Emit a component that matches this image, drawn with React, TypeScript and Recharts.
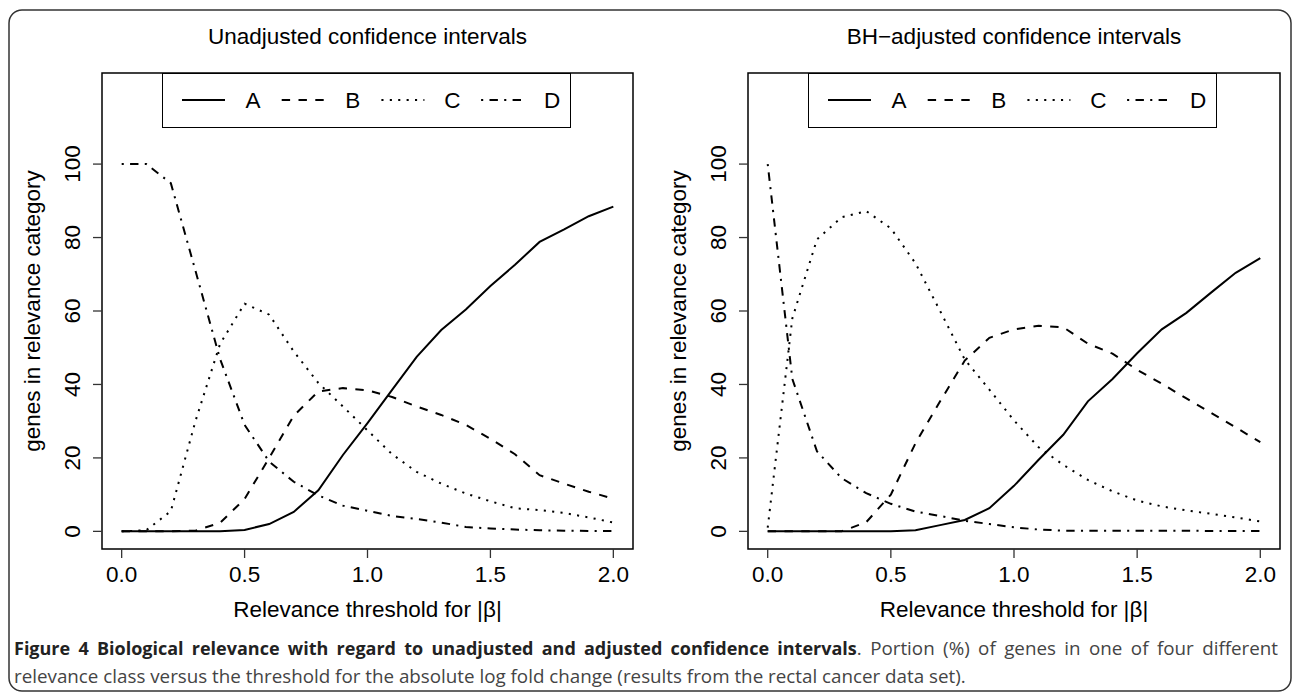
import React from 'react';
import { LineChart, Line, XAxis, YAxis, ReferenceArea, Legend } from 'recharts';

// relevance threshold for |beta|
const THRESHOLDS = [0, 0.1, 0.2, 0.3, 0.4, 0.5, 0.6, 0.7, 0.8, 0.9, 1.0, 1.1, 1.2, 1.3, 1.4, 1.5, 1.6, 1.7, 1.8, 1.9, 2.0];

// unadjusted confidence intervals (% of genes)
const UNADJ_A = [0, 0, 0, 0, 0, 0.4, 2, 5.3, 11.2, 20.8, 29.5, 38.5, 47.5, 54.8, 60.4, 66.8, 72.6, 78.8, 82.2, 85.8, 88.4];
const UNADJ_B = [0, 0, 0, 0.2, 2.3, 8.8, 20, 31.5, 38.1, 39, 38.4, 36.6, 34, 31.7, 29, 25.2, 21, 15.3, 13, 10.8, 8.9];
const UNADJ_C = [0, 0.3, 5.5, 30, 51, 62, 59, 49, 40.4, 34, 27.5, 21, 16.2, 13, 10.3, 8.2, 6.3, 5.8, 5, 3.8, 2.4];
const UNADJ_D = [100, 100, 94.8, 71, 47, 29, 19, 13.5, 9.8, 7, 5.6, 4.2, 3.4, 2.4, 1.2, 0.8, 0.5, 0.3, 0.2, 0.1, 0.1];

// BH-adjusted confidence intervals (% of genes)
const ADJ_A = [0, 0, 0, 0, 0, 0, 0.3, 1.7, 3.1, 6.3, 12.4, 19.5, 26.3, 35.4, 41.5, 48.5, 55, 59.5, 65, 70.4, 74.4];
const ADJ_B = [0, 0, 0, 0, 2.5, 10, 24, 35.4, 46.5, 52.7, 55, 56, 55.6, 51.1, 48.4, 44, 40.2, 36.2, 32.3, 28.3, 24.3];
const ADJ_C = [1, 58, 79.5, 85.5, 87.2, 82.5, 73, 60, 46.8, 38.6, 30.2, 22.9, 18.1, 14, 10.9, 8.4, 6.8, 5.7, 4.8, 3.8, 2.7];
const ADJ_D = [100, 41.5, 21.8, 14.5, 10.4, 7.5, 5.4, 4.2, 2.9, 2, 1.1, 0.5, 0.2, 0.2, 0.2, 0.2, 0.2, 0.2, 0.1, 0.1, 0.1];

const CATEGORIES = ['A', 'B', 'C', 'D'];
const X_TICKS = [0, 0.5, 1, 1.5, 2];
const Y_TICKS = [0, 20, 40, 60, 80, 100];

const DASHES: Record<string, string | undefined> = {
  A: undefined,
  B: '8.4 8.4',
  C: '2.1 6.3',
  D: '2.1 6.3 8.4 6.3',
};

const R_FONT = '"Liberation Sans", Arial, Helvetica, sans-serif';
const R_SIZE = 22.5;

const X_DOMAIN = [-0.08, 2.08];
const Y_DOMAIN = [-4.8, 124.8];

function toRows(a: number[], b: number[], c: number[], d: number[]) {
  return THRESHOLDS.map((t, i) => ({ t, A: a[i], B: b[i], C: c[i], D: d[i] }));
}

const XTick = (props: any) => {
  const { x, y, payload } = props;
  return (
    <text x={x} y={y} dy={22} textAnchor="middle" fontFamily={R_FONT} fontSize={R_SIZE} fill="#000">
      {Number(payload.value).toFixed(1)}
    </text>
  );
};

const YTick = (props: any) => {
  const { x, y, payload } = props;
  const bx = x - 11;
  return (
    <text x={bx} y={y} transform={`rotate(-90, ${bx}, ${y})`} textAnchor="middle" fontFamily={R_FONT} fontSize={R_SIZE} fill="#000">
      {payload.value}
    </text>
  );
};

const LegendBox = () => (
  <div style={{ width: 409, height: 55, border: '1.5px solid #000', boxSizing: 'border-box', background: '#fff' }}>
    <svg width={406} height={52} style={{ display: 'block' }}>
      {CATEGORIES.map((k, i) => (
        <g key={k}>
          <line x1={19 + 99.7 * i} x2={62 + 99.7 * i} y1={26} y2={26} stroke="#000" strokeWidth={2} strokeDasharray={DASHES[k]} />
          <text x={90 + 99.7 * i} y={34} textAnchor="middle" fontFamily={R_FONT} fontSize={R_SIZE} fill="#000">{k}</text>
        </g>
      ))}
    </svg>
  </div>
);

interface PanelProps {
  rows: any[];
  left: number;
  width: number;
  right: number;
}

function Panel({ rows, left, width, right }: PanelProps) {
  return (
    <div style={{ position: 'absolute', left, top: 0, width, height: 694 }}>
      <LineChart width={width} height={694} data={rows} margin={{ top: 73, right, bottom: 85, left: 0 }}>
        <XAxis dataKey="t" type="number" domain={X_DOMAIN} ticks={X_TICKS} allowDataOverflow interval={0}
          axisLine={false} tickSize={9} tickLine={{ stroke: '#333', strokeWidth: 1.3 }} tick={XTick} height={60} />
        <YAxis type="number" domain={Y_DOMAIN} ticks={Y_TICKS} allowDataOverflow interval={0}
          axisLine={false} tickSize={9} tickLine={{ stroke: '#333', strokeWidth: 1.3 }} tick={YTick} width={102} />
        <ReferenceArea x1={X_DOMAIN[0]} x2={X_DOMAIN[1]} y1={Y_DOMAIN[0]} y2={Y_DOMAIN[1]}
          fill="none" fillOpacity={0} stroke="#000" strokeWidth={1.5} ifOverflow="visible" />
        {CATEGORIES.map((k) => (
          <Line key={k} dataKey={k} type="linear" stroke="#000" strokeWidth={2} strokeDasharray={DASHES[k]}
            dot={false} activeDot={false} isAnimationActive={false} />
        ))}
        <Legend layout="vertical" align="center" verticalAlign="middle" content={LegendBox}
          wrapperStyle={{ position: 'absolute', left: 162, top: 73, width: 409, height: 55 }} />
      </LineChart>
    </div>
  );
}

export default function App() {
  const unadjusted = toRows(UNADJ_A, UNADJ_B, UNADJ_C, UNADJ_D);
  const adjusted = toRows(ADJ_A, ADJ_B, ADJ_C, ADJ_D);
  const textProps = { fontFamily: R_FONT, fontSize: R_SIZE, fill: '#000', textAnchor: 'middle' as const };

  return (
    <div style={{ position: 'absolute', left: 0, top: 0, width: 1293, height: 694, background: '#fff', overflow: 'hidden' }}>
      <svg width={1293} height={694} style={{ position: 'absolute', left: 0, top: 0 }}>
        <rect x={9} y={10} width={1282} height={681} rx={13} fill="none" stroke="#333" strokeWidth={1.5} />
        <text x={367.5} y={43.5} {...textProps}>Unadjusted confidence intervals</text>
        <text x={1014} y={43.5} {...textProps}>BH−adjusted confidence intervals</text>
        <text x={367.5} y={617} {...textProps}>Relevance threshold for |β|</text>
        <text x={1014} y={617} {...textProps}>Relevance threshold for |β|</text>
        <text x={40} y={311} transform="rotate(-90, 40, 311)" {...textProps}>genes in relevance category</text>
        <text x={686} y={311} transform="rotate(-90, 686, 311)" {...textProps}>genes in relevance category</text>
      </svg>
      <Panel rows={unadjusted} left={0} width={640} right={7} />
      <Panel rows={adjusted} left={646} width={647} right={13} />
      <div style={{ position: 'absolute', left: 14, top: 635, width: 1264, fontFamily: '"Open Sans", sans-serif', fontSize: 18.8, lineHeight: '27.5px', color: '#444' }}>
        <div style={{ textAlign: 'justify', textAlignLast: 'justify', whiteSpace: 'nowrap' }}>
          <span style={{ fontWeight: 700, fontSize: 18, color: '#222' }}>Figure 4 Biological relevance with regard to unadjusted and adjusted confidence intervals</span>. Portion (%) of genes in one of four different
        </div>
        <div>relevance class versus the threshold for the absolute log fold change (results from the rectal cancer data set).</div>
      </div>
    </div>
  );
}
